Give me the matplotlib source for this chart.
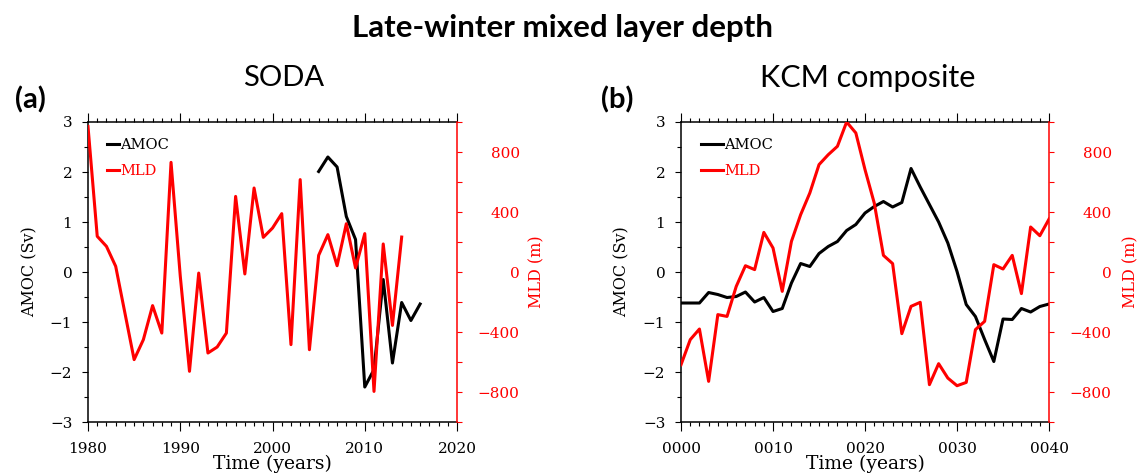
import numpy as np
import matplotlib
matplotlib.use('Agg')
import matplotlib.pyplot as plt
from matplotlib import font_manager
from matplotlib.ticker import MultipleLocator, FixedLocator, FuncFormatter

# ── DATA ─────────────────────────────────────────────────────────────────
# (a) SODA
SODA_MLD_YEARS = np.arange(1980, 2015)
SODA_MLD = [970, 238, 171, 38, -273, -584, -451, -224, -407, 731,
            -27, -662, -7, -540, -500, -407, 504, -13, 560, 231,
            293, 389, -484, 616, -518, 111, 249, 42, 322, 27,
            256, -796, 187, -356, 233]
SODA_AMOC_YEARS = np.arange(2005, 2017)
SODA_AMOC = [2.01, 2.30, 2.10, 1.11, 0.65, -2.30, -1.95, -0.15,
             -1.82, -0.61, -0.97, -0.64]

# (b) KCM composite
KCM_YEARS = np.arange(0, 41)
KCM_AMOC = [-0.62, -0.62, -0.62, -0.41, -0.45, -0.51, -0.49, -0.40, -0.60, -0.51,
            -0.79, -0.73, -0.22, 0.17, 0.11, 0.37, 0.51, 0.61, 0.83, 0.95,
            1.18, 1.31, 1.41, 1.30, 1.39, 2.07, 1.70, 1.35, 1.00, 0.58,
            0.01, -0.65, -0.89, -1.35, -1.79, -0.94, -0.95, -0.73, -0.80, -0.69,
            -0.64]
KCM_MLD = [-618, -451, -380, -729, -284, -296, -96, 42, 16, 264,
           160, -129, 204, 382, 527, 716, 782, 838, 1000, 927,
           682, 460, 111, 56, -411, -229, -202, -751, -611, -707,
           -758, -736, -384, -329, 49, 20, 111, -144, 300, 242,
           353]

# ── FONTS ────────────────────────────────────────────────────────────────
installed = {f.name for f in font_manager.fontManager.ttflist}
SANS = next(f for f in ['Liberation Sans Narrow', 'Lato', 'Open Sans', 'DejaVu Sans']
            if f in installed)
SERIF = 'DejaVu Serif'

RED = '#ff0000'
LW = 2.2

def minus(v, p):
    return f'{int(round(v))}'.replace('-', '\u2212')

fig = plt.figure(figsize=(11.4, 4.76), dpi=100)
fig.patch.set_facecolor('white')

fig.text(0.493, 0.941, 'Late-winter mixed layer depth', ha='center', va='center',
         fontsize=22.5, fontweight='bold', family=SANS)

panels = [
    dict(rect=[0.0772, 0.1134, 0.3237, 0.6303], xlim=(1980, 2020),
         xa=SODA_AMOC_YEARS, amoc=SODA_AMOC, xm=SODA_MLD_YEARS, mld=SODA_MLD,
         title='SODA', title_x=283.5, title_fs=21, letter='(a)', letter_x=30,
         fmt=lambda v, p: f'{int(round(v))}', hlen=0.85, leg_x=0.035,
         ylab_x=30, rlab_x=537),
    dict(rect=[0.5974, 0.1134, 0.3228, 0.6303], xlim=(0, 40),
         xa=KCM_YEARS, amoc=KCM_AMOC, xm=KCM_YEARS, mld=KCM_MLD,
         title='KCM composite', title_x=868, title_fs=22, letter='(b)', letter_x=617,
         fmt=lambda v, p: f'{int(round(v)):04d}', hlen=1.55, leg_x=0.038,
         ylab_x=622, rlab_x=1131),
]

W, H = 1140.0, 476.0
for P in panels:
    ax = fig.add_axes(P['rect'])
    ax2 = ax.twinx()

    l1, = ax.plot(P['xa'], P['amoc'], color='black', lw=LW, label='AMOC',
                  solid_joinstyle='round')
    l2, = ax2.plot(P['xm'], P['mld'], color=RED, lw=LW, label='MLD',
                   solid_joinstyle='round')

    ax.set_xlim(*P['xlim'])
    ax.set_ylim(-3, 3)
    ax2.set_ylim(-1000, 1000)

    # x axis
    ax.xaxis.set_major_locator(MultipleLocator(10))
    ax.xaxis.set_minor_locator(MultipleLocator(1))
    ax.xaxis.set_major_formatter(FuncFormatter(P['fmt']))
    ax.tick_params(axis='x', which='both', top=True, direction='out',
                   width=0.8, labelsize=11, pad=8)
    ax.tick_params(axis='x', which='major', length=6.5)
    ax.tick_params(axis='x', which='minor', length=3)

    # left y axis
    ax.yaxis.set_major_locator(MultipleLocator(1))
    ax.yaxis.set_minor_locator(MultipleLocator(0.5))
    ax.yaxis.set_major_formatter(FuncFormatter(minus))
    ax.tick_params(axis='y', which='both', direction='out', width=0.8,
                   labelsize=11, pad=7)
    ax.tick_params(axis='y', which='major', length=4.3)
    ax.tick_params(axis='y', which='minor', length=3)

    # right y axis
    ax2.yaxis.set_major_locator(FixedLocator([-800, -400, 0, 400, 800]))
    ax2.yaxis.set_minor_locator(FixedLocator([-1000, -600, -200, 200, 600, 1000]))
    ax2.yaxis.set_major_formatter(FuncFormatter(minus))
    ax2.tick_params(axis='y', which='both', direction='out', width=0.8,
                    length=3.6, colors=RED, labelsize=11, pad=41.5)
    for t in ax2.yaxis.get_major_ticks():
        t.label2.set_horizontalalignment('right')

    for lab in ax.get_xticklabels() + ax.get_yticklabels() + ax2.get_yticklabels():
        lab.set_family(SERIF)

    for s in ax.spines.values():
        s.set_linewidth(1.1)
    ax.spines['right'].set_visible(False)
    for k in ['left', 'top', 'bottom']:
        ax2.spines[k].set_visible(False)
    ax2.spines['right'].set_color(RED)
    ax2.spines['right'].set_linewidth(1.1)

    # axis labels
    ax.set_xlabel('Time (years)', family=SERIF, fontsize=13.5)
    ax.xaxis.set_label_coords(0.5, -0.108)
    x0 = P['rect'][0] * W
    aw = P['rect'][2] * W
    ax.set_ylabel('AMOC (Sv)', family=SERIF, fontsize=11.5)
    ax.yaxis.set_label_coords((P['ylab_x'] - x0) / aw, 0.5)
    ax.yaxis.label.set_ha('center')
    ax.yaxis.label.set_va('center')
    ax2.set_ylabel('MLD (m)', family=SERIF, fontsize=11.5, color=RED)
    ax2.yaxis.set_label_coords((P['rlab_x'] - x0) / aw, 0.5)
    ax2.yaxis.label.set_ha('center')
    ax2.yaxis.label.set_va('center')

    # legend
    ax2.legend(handles=[l1, l2], loc='upper left',
               bbox_to_anchor=(P['leg_x'], 0.965), borderaxespad=0,
               frameon=False, handlelength=P['hlen'], handletextpad=0.05,
               labelspacing=0.8, prop=dict(family=SERIF, size=10.5),
               labelcolor='linecolor')

    # titles
    fig.text(P['title_x'] / W, 1 - 78 / H, P['title'], ha='center', va='center',
             fontsize=P['title_fs'], family=SANS)
    fig.text(P['letter_x'] / W, 1 - 100 / H, P['letter'], ha='center',
             va='center', fontsize=21, fontweight='bold', family=SANS)

fig.savefig('out.png', dpi=100, facecolor='white')
